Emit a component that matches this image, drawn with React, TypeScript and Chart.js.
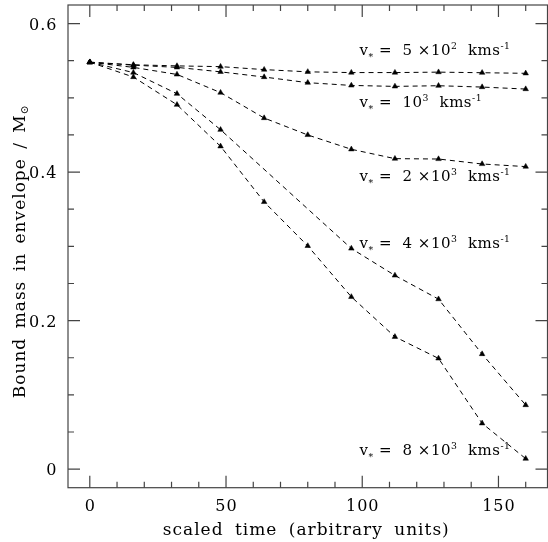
import React, { useEffect, useRef } from "react";
import { Chart, registerables } from "chart.js";

Chart.register(...registerables);

// ---- data ----
const timeSteps = [0, 16, 32, 48, 64, 80, 96, 112, 128, 144, 160];
const time4000 = [0, 16, 32, 48, 96, 112, 128, 144, 160];

const mass500 = [0.548, 0.5445, 0.543, 0.542, 0.538, 0.535, 0.534, 0.534, 0.5346, 0.5338, 0.533];
const mass1000 = [0.548, 0.544, 0.541, 0.535, 0.528, 0.5204, 0.5167, 0.5154, 0.5163, 0.5145, 0.5118];
const mass2000 = [0.548, 0.541, 0.5315, 0.507, 0.4728, 0.45, 0.4307, 0.4181, 0.4176, 0.4109, 0.4074];
const mass4000 = [0.548, 0.534, 0.5055, 0.457, 0.2971, 0.2608, 0.2289, 0.155, 0.0863];
const mass8000 = [0.548, 0.528, 0.4907, 0.4347, 0.3598, 0.3006, 0.232, 0.1782, 0.1491, 0.0617, 0.0141];

const xTickValues = [0, 50, 100, 150];
const xTickLabels = ["0", "50", "100", "150"];
const xMinorValues = [10, 20, 30, 40, 60, 70, 80, 90, 110, 120, 130, 140, 160];
const yTickValues = [0, 0.2, 0.4, 0.6];
const yTickLabels = ["0", "0.2", "0.4", "0.6"];
const yMinorValues = [0.05, 0.1, 0.15, 0.25, 0.3, 0.35, 0.45, 0.5, 0.55];

// curve labels: anchor (data units), coefficient text, exponent
const labelX = [99, 99, 99, 99, 99];
const labelY = [0.557, 0.4875, 0.388, 0.298, 0.0186];
const labelCoef = ["5 \u00d710", "10", "2 \u00d710", "4 \u00d710", "8 \u00d710"];
const labelExp = ["2", "3", "3", "3", "3"];

const xTitle = "scaled time (arbitrary units)";
const yTitle = "Bound mass in envelope / M";

const FONT = '"DejaVu Serif", serif';
const INK = "#000";
const AXIS = "#444";

type Seg = { t: string; mode?: "sup" | "sub" | "star" };

function setSpacing(ctx: CanvasRenderingContext2D, ls: number, ws: number) {
  (ctx as any).letterSpacing = `${ls}px`;
  (ctx as any).wordSpacing = `${ws}px`;
}

function segWidth(ctx: CanvasRenderingContext2D, segs: Seg[], size: number) {
  let w = 0;
  for (const s of segs) {
    const fs = s.mode ? size * 0.62 : size;
    ctx.font = `${fs}px ${FONT}`;
    w += ctx.measureText(s.t).width;
  }
  return w;
}

function drawRich(ctx: CanvasRenderingContext2D, segs: Seg[], x: number, y: number, size: number) {
  let cx = x;
  for (const s of segs) {
    const fs = s.mode ? size * 0.62 : size;
    ctx.font = `${fs}px ${FONT}`;
    let dy = 0;
    if (s.mode === "sup") dy = -size * 0.42;
    if (s.mode === "sub") dy = size * 0.2;
    if (s.mode === "star") dy = size * 0.32;
    ctx.fillText(s.t, cx, y + dy);
    cx += ctx.measureText(s.t).width;
  }
}

const framePlugin = {
  id: "framePlugin",
  afterDraw(chart: any) {
    const { ctx, chartArea: a, scales } = chart;
    const xs = scales.x;
    const ys = scales.y;
    ctx.save();
    ctx.strokeStyle = AXIS;
    ctx.lineWidth = 1.2;
    ctx.strokeRect(a.left, a.top, a.right - a.left, a.bottom - a.top);
    ctx.beginPath();
    const major = 12;
    const minor = 6;
    const xt = (v: number, len: number) => {
      const px = xs.getPixelForValue(v);
      ctx.moveTo(px, a.bottom);
      ctx.lineTo(px, a.bottom - len);
      ctx.moveTo(px, a.top);
      ctx.lineTo(px, a.top + len);
    };
    const yt = (v: number, len: number) => {
      const py = ys.getPixelForValue(v);
      ctx.moveTo(a.left, py);
      ctx.lineTo(a.left + len, py);
      ctx.moveTo(a.right, py);
      ctx.lineTo(a.right - len, py);
    };
    xTickValues.forEach((v) => xt(v, major));
    xMinorValues.forEach((v) => xt(v, minor));
    yTickValues.forEach((v) => yt(v, major));
    yMinorValues.forEach((v) => yt(v, minor));
    ctx.stroke();

    ctx.fillStyle = INK;
    ctx.font = `16px ${FONT}`;
    ctx.textBaseline = "alphabetic";
    setSpacing(ctx, 1, 0);
    // x tick labels
    ctx.textAlign = "center";
    xTickValues.forEach((v, i) => {
      ctx.fillText(xTickLabels[i], xs.getPixelForValue(v) + 0.5, a.bottom + 23.5);
    });
    // y tick labels
    ctx.textAlign = "right";
    yTickValues.forEach((v, i) => {
      ctx.fillText(yTickLabels[i], a.left - 10.5, ys.getPixelForValue(v) + 6);
    });

    // x title
    ctx.textAlign = "left";
    setSpacing(ctx, 1, 5);
    const xSegs: Seg[] = [{ t: xTitle }];
    const xw = segWidth(ctx, xSegs, 17);
    drawRich(ctx, xSegs, (a.left + a.right) / 2 - 1.5 - xw / 2, 535, 17);

    // y title
    setSpacing(ctx, 1, 3);
    const ySegs: Seg[] = [{ t: yTitle }, { t: "\u2299", mode: "sub" }];
    const yw = segWidth(ctx, ySegs, 17);
    ctx.save();
    ctx.translate(25, (a.top + a.bottom) / 2 + 5);
    ctx.rotate(-Math.PI / 2);
    drawRich(ctx, ySegs, -yw / 2, 0, 17);
    ctx.restore();

    // curve labels
    setSpacing(ctx, 0.5, 0);
    labelX.forEach((lx, i) => {
      const segs: Seg[] = [
        { t: "v" },
        { t: "*", mode: "star" },
        { t: " =  " + labelCoef[i] },
        { t: labelExp[i], mode: "sup" },
        { t: "  kms" },
        { t: "-1", mode: "sup" },
      ];
      drawRich(ctx, segs, xs.getPixelForValue(lx), ys.getPixelForValue(labelY[i]), 15);
    });
    ctx.restore();
  },
};

function series(xv: number[], yv: number[]) {
  return {
    data: xv.map((x, i) => ({ x, y: yv[i] })),
    borderColor: INK,
    borderWidth: 1,
    borderDash: [5, 4],
    pointStyle: "triangle",
    pointRadius: 3.2,
    pointBackgroundColor: INK,
    pointBorderColor: INK,
    pointBorderWidth: 0.5,
    fill: false,
    tension: 0,
  };
}

export default function App() {
  const ref = useRef<HTMLCanvasElement | null>(null);
  useEffect(() => {
    if (!ref.current) return;
    const chart = new Chart(ref.current, {
      type: "line",
      data: {
        datasets: [
          series(timeSteps, mass500),
          series(timeSteps, mass1000),
          series(timeSteps, mass2000),
          series(time4000, mass4000),
          series(timeSteps, mass8000),
        ] as any,
      },
      options: {
        animation: false,
        responsive: true,
        maintainAspectRatio: false,
        layout: { padding: { top: 5, right: 1, left: 0, bottom: 0 } },
        plugins: { legend: { display: false }, tooltip: { enabled: false } },
        scales: {
          x: {
            type: "linear",
            min: -8,
            max: 168,
            ticks: { display: false },
            grid: { display: false },
            border: { display: false },
            afterFit: (s: any) => {
              s.height = 54.3;
            },
          },
          y: {
            type: "linear",
            min: -0.025,
            max: 0.625,
            ticks: { display: false },
            grid: { display: false },
            border: { display: false },
            afterFit: (s: any) => {
              s.width = 68;
            },
          },
        },
      } as any,
      plugins: [framePlugin],
    });
    return () => chart.destroy();
  }, []);

  return (
    <div style={{ position: "fixed", left: 0, top: 0, width: 548, height: 542, overflow: "hidden", background: "#fff" }}>
      <div style={{ position: "relative", width: 552, height: 542 }}>
        <canvas ref={ref} />
      </div>
    </div>
  );
}
